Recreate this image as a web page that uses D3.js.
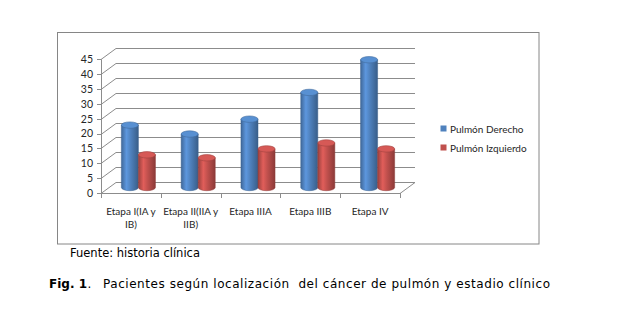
<!DOCTYPE html>
<html><head><meta charset="utf-8">
<script src="https://cdn.jsdelivr.net/npm/d3@7"></script>
<style>body{margin:0;background:#fff}svg{display:block}</style>
</head><body><svg id="c" width="632" height="330"></svg>
<script>
const categories=["Etapa I(IA y IB)","Etapa II(IIA y IIB)","Etapa IIIA","Etapa IIIB","Etapa IV"];
const seriesNames=["Pulmón Derecho","Pulmón Izquierdo"];
const derecho=[21,18,23,32,43];
const izquierdo=[11,10,13,15,13];
const yTicks=[0,5,10,15,20,25,30,35,40,45];
const colors=["#4F81BD","#C0504D"];
const sourceText="Fuente: historia clínica";
const figLabel="Fig. 1";
const figTitle="Pacientes según localización  del cáncer de pulmón y estadio clínico";

const svg=d3.select("#c");
const defs=svg.append("defs");
const L=101,R=400,Y0=193,DX=15,DY=-11;
const y=d3.scaleLinear().domain([0,45]).range([Y0,59.3]);
const x=d3.scaleBand().domain(categories).range([L,R]).paddingInner(0.43).paddingOuter(0.215);
const xs=d3.scaleBand().domain(seriesNames).range([0,x.bandwidth()]);
const series=[derecho,izquierdo];

// chart frame
svg.append("rect").attr("x",57.5).attr("y",32.5).attr("width",481.5).attr("height",211.5)
  .attr("fill","#fff").attr("stroke","#868686").attr("stroke-width",1);

const grid=svg.append("g").attr("stroke","#8c8c8c").attr("stroke-width",1).attr("fill","none");
yTicks.forEach(v=>{
  const yy=Math.round(y(v))+0.5;
  grid.append("line").attr("x1",L+DX).attr("x2",R+DX).attr("y1",yy+DY).attr("y2",yy+DY);
  grid.append("line").attr("x1",L).attr("x2",L+DX).attr("y1",yy).attr("y2",yy+DY);
});
grid.append("line").attr("x1",L).attr("x2",R).attr("y1",Y0+0.5).attr("y2",Y0+0.5);
grid.append("line").attr("x1",R).attr("x2",R+DX).attr("y1",Y0+0.5).attr("y2",Y0+0.5+DY);
grid.append("line").attr("x1",L+0.5).attr("x2",L+0.5).attr("y1",y(45)).attr("y2",Y0+0.5);
yTicks.forEach(v=>{const yy=Math.round(y(v))+0.5;grid.append("line").attr("x1",L-4).attr("x2",L).attr("y1",yy).attr("y2",yy);});
const bounds=categories.map(c=>x(c)-x.step()*x.paddingInner()/2);bounds.push(R);
bounds.forEach(b=>grid.append("line").attr("x1",Math.round(b)+0.5).attr("x2",Math.round(b)+0.5).attr("y1",Y0).attr("y2",Y0+5));

svg.append("g").selectAll("text").data(yTicks).join("text")
  .attr("x",93).attr("y",v=>y(v)+3.8).attr("text-anchor","end")
  .attr("font-family","Lato").attr("font-size",10.5).attr("fill","#262626").text(v=>v);

const lab=svg.append("g").attr("font-family","Lato").attr("font-size",10).attr("fill","#262626");
categories.forEach(c=>{
  const cx=x(c)+x.bandwidth()/2;
  const t=lab.append("text").attr("text-anchor","middle");
  const words=c.split(" ");let line=[];let lines=[];
  const probe=t.append("tspan");
  words.forEach(w=>{line.push(w);probe.text(line.join(" "));
    if(probe.node().getComputedTextLength()>60&&line.length>1){line.pop();lines.push(line.join(" "));line=[w];}});
  lines.push(line.join(" "));probe.remove();
  lines.forEach((ln,i)=>t.append("tspan").attr("x",cx).attr("y",215+i*13).text(ln));
});

function grad(id,base){
  const c=d3.color(base);
  const g=defs.append("linearGradient").attr("id",id).attr("x1",0).attr("x2",1).attr("y1",0).attr("y2",0);
  [[0,c.darker(0.6)],[0.3,c.brighter(0.45)],[0.55,c],[1,c.darker(0.9)]].forEach(([o,col])=>
    g.append("stop").attr("offset",o).attr("stop-color",col.formatHex()));
}
grad("g0",colors[0]);grad("g1",colors[1]);

const ry=3.2;
const bars=svg.append("g");
categories.forEach((c,i)=>{
  seriesNames.forEach((s,j)=>{
    const v=series[j][i];
    const w=xs.bandwidth();
    const left=x(c)+xs(s)+DX/2, right=left+w, cx=left+w/2;
    const yb=y(0)+DY/2, yt=y(v)+DY/2;
    const base=d3.color(colors[j]);
    bars.append("path")
      .attr("d",`M${left},${yt}L${left},${yb}A${w/2},${ry} 0 0 0 ${right},${yb}L${right},${yt}Z`)
      .attr("fill",`url(#g${j})`).attr("stroke",base.darker(0.8).formatHex()).attr("stroke-width",0.5);
    bars.append("ellipse").attr("cx",cx).attr("cy",yt).attr("rx",w/2).attr("ry",ry)
      .attr("fill",base.brighter(0.3).formatHex()).attr("stroke",base.darker(0.5).formatHex()).attr("stroke-width",0.6);
  });
});

const leg=svg.append("g").attr("font-family","Lato").attr("font-size",10).attr("fill","#262626");
seriesNames.forEach((s,j)=>{
  const yy=129+j*19;
  leg.append("rect").attr("x",440.5).attr("y",yy-3.5).attr("width",6).attr("height",6).attr("fill",colors[j]);
  leg.append("text").attr("x",450).attr("y",yy+3.5).text(s);
});

svg.append("text").attr("x",70).attr("y",257).attr("font-family","DejaVu Sans").attr("font-size",11.5)
  .attr("fill","#000").text(sourceText);
const figT=svg.append("text").attr("x",49).attr("y",288).attr("font-family","DejaVu Sans").attr("font-size",12)
  .attr("font-weight","bold").attr("fill","#000").text(figLabel);
const fw=figT.node().getComputedTextLength();
svg.append("text").attr("x",49+fw+0.5).attr("y",288).attr("font-family","DejaVu Sans").attr("font-size",12)
  .attr("fill","#000").text(".");
svg.append("text").attr("x",103).attr("y",288).attr("font-family","DejaVu Sans").attr("font-size",12)
  .attr("fill","#000").attr("textLength",447).attr("lengthAdjust","spacing")
  .style("white-space","pre").text(figTitle);
</script></body></html>
